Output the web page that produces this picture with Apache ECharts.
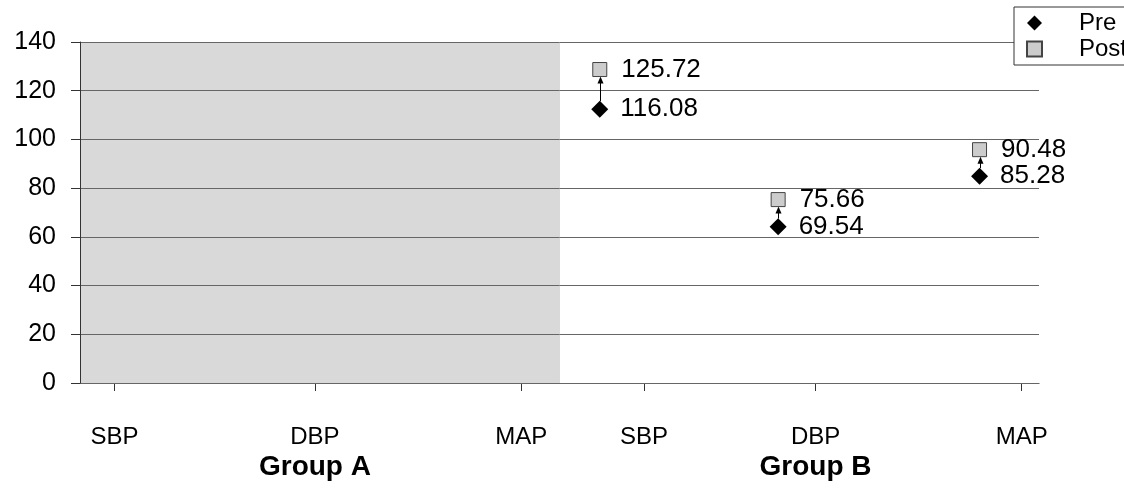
<!DOCTYPE html>
<html>
<head>
<meta charset="utf-8">
<script src="https://cdn.jsdelivr.net/npm/echarts@6/dist/echarts.min.js"></script>
<style>
  html, body { margin: 0; padding: 0; background: #fff; }
  #chart { width: 1124px; height: 494px; }
</style>
</head>
<body>
<div id="chart"></div>
<script>
  // x axis runs 0..100 across the plot area; categories sit at these positions
  const categories = ['SBP', 'DBP', 'MAP', 'SBP', 'DBP', 'MAP'];
  const tickPos = [3.6, 24.5, 46.0, 58.8, 76.7, 98.2];
  const groups = ['Group A', 'Group B'];
  const groupPos = [24.5, 76.7];
  const shadedEnd = 50.05;

  // measurements plotted (Group B only)
  const pointPos = [54.2, 72.8, 93.8];
  const preValues = [112.4, 64.2, 84.9];
  const postValues = [128.7, 75.3, 95.8];
  const preLabels = ['116.08', '69.54', '85.28'];
  const postLabels = ['125.72', '75.66', '90.48'];
  const yTicks = [0, 20, 40, 60, 80, 100, 120, 140];

  const font = 'Liberation Sans, Arial, sans-serif';
  const chart = echarts.init(document.getElementById('chart'));

  const preData = pointPos.map((x, i) => [x, preValues[i]]);
  const postData = pointPos.map((x, i) => [x, postValues[i]]);
  const arrowData = pointPos.map((x, i) => [x, preValues[i], postValues[i]]);

  chart.setOption({
    animation: false,
    textStyle: {fontFamily: font},
    grid: {left: 80, right: 85, top: 42, bottom: 111},
    legend: {
      data: ['Pre', 'Post'],
      orient: 'vertical',
      left: 1014,
      top: 7,
      padding: [4, 20, 4, 12],
      itemGap: 2,
      itemWidth: 15,
      itemHeight: 15,
      borderColor: '#333',
      borderWidth: 1,
      backgroundColor: '#fff',
      textStyle: {fontSize: 24, color: '#000', padding: [0, 0, 0, 32]}
    },
    xAxis: [
      {
        type: 'value',
        min: 0,
        max: 100,
        splitLine: {show: false},
        axisLine: {lineStyle: {color: '#333'}},
        axisTick: {customValues: tickPos, length: 8, lineStyle: {color: '#333'}},
        axisLabel: {
          customValues: tickPos,
          fontSize: 24,
          color: '#000',
          margin: 42,
          formatter: v => categories[tickPos.indexOf(v)]
        }
      },
      {
        type: 'value',
        position: 'bottom',
        min: 0,
        max: 100,
        splitLine: {show: false},
        axisLine: {show: false},
        axisTick: {show: false},
        axisLabel: {
          customValues: groupPos,
          fontSize: 28,
          fontWeight: 'bold',
          color: '#000',
          margin: 70,
          formatter: v => groups[groupPos.indexOf(v)]
        }
      }
    ],
    yAxis: {
      type: 'value',
      min: 0,
      max: 140,
      interval: 20,
      z: 1.5,
      axisLine: {show: true, lineStyle: {color: '#333'}},
      axisTick: {show: true, length: 9, lineStyle: {color: '#333'}},
      axisLabel: {fontSize: 25, color: '#000', margin: 24, customValues: yTicks},
      splitLine: {lineStyle: {color: '#666', width: 1}}
    },
    series: [
      {
        type: 'custom',
        name: 'arrows',
        z: 3,
        data: arrowData,
        renderItem(params, api) {
          const from = api.coord([api.value(0), api.value(1)]);
          const to = api.coord([api.value(0), api.value(2)]);
          const x = Math.round(from[0]) + 0.5;
          const tipY = to[1] + 7;
          return {
            type: 'group',
            children: [
              {type: 'line', shape: {x1: x, y1: from[1] - 8, x2: x, y2: tipY + 5},
                style: {stroke: '#000', lineWidth: 1}},
              {type: 'polygon', shape: {points: [[x, tipY], [x - 3, tipY + 7], [x + 3, tipY + 7]]},
                style: {fill: '#000'}}
            ]
          };
        }
      },
      {
        type: 'scatter',
        name: 'Pre',
        z: 4,
        symbol: 'diamond',
        symbolSize: 17,
        itemStyle: {color: '#000', opacity: 1},
        data: preData,
        label: {
          show: true,
          position: 'right',
          distance: 12,
          fontSize: 26,
          color: '#000',
          formatter: p => preLabels[p.dataIndex]
        },
        markArea: {
          silent: true,
          z: 0,
          itemStyle: {color: '#d9d9d9'},
          data: [[{xAxis: 0, yAxis: 0}, {xAxis: shadedEnd, yAxis: 140}]]
        }
      },
      {
        type: 'scatter',
        name: 'Post',
        z: 4,
        symbol: 'rect',
        symbolSize: 14,
        itemStyle: {color: '#cccccc', borderColor: '#444', borderWidth: 1, opacity: 1},
        data: postData,
        label: {
          show: true,
          position: 'right',
          distance: 14,
          fontSize: 26,
          color: '#000',
          formatter: p => postLabels[p.dataIndex]
        }
      }
    ]
  });
</script>
</body>
</html>
